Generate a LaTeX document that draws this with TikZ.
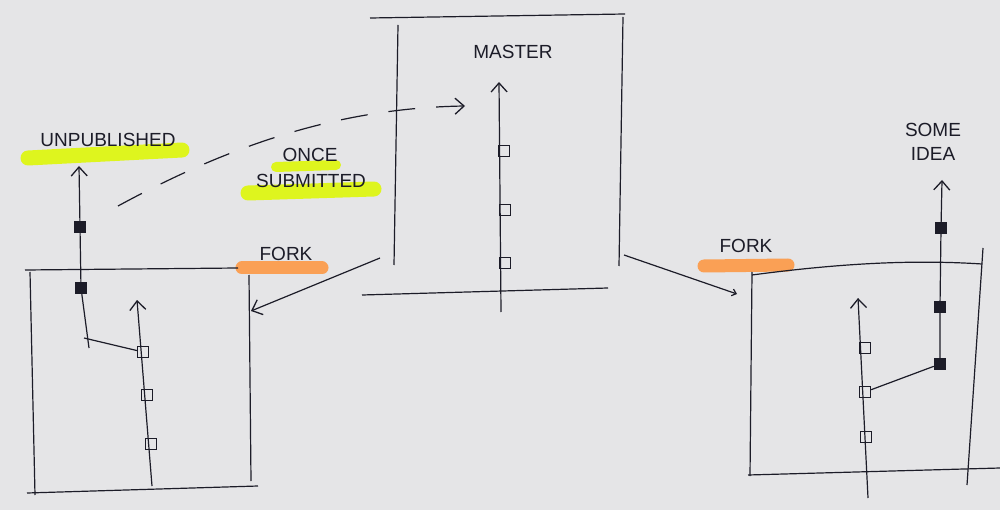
\documentclass[tikz,border=0pt]{standalone}
\usepackage{fontspec}
\setmainfont{Liberation Sans}
\usetikzlibrary{arrows.meta}
\definecolor{paper}{RGB}{229,229,231}
\definecolor{ink}{RGB}{28,28,40}
\definecolor{hly}{RGB}{222,245,30}
\definecolor{hlo}{RGB}{250,160,85}
\tikzset{
  ln/.style={draw=ink, line width=1.2pt},
  arr/.style={-{Straight Barb[length=9pt,width=16pt,line width=1.3pt]}},
  hc/.style={draw=ink, line width=1.4pt, minimum size=11pt, inner sep=0pt, rectangle},
  fc/.style={hc, fill=ink},
  lbl/.style={font=\fontsize{19}{24}\selectfont, text=ink, align=center},
  hly/.style={draw=hly, line width=15pt, line cap=round},
  hlo/.style={draw=hlo, line width=13pt, line cap=round}
}
\begin{document}
\begin{tikzpicture}[x=1pt,y=-1pt]
\fill[paper] (0,0) rectangle (1000,510);
\useasboundingbox (0,0) rectangle (1000,510);

% highlights
\draw[hly] (28,158) -- (182,150);
\draw[hly] (248,193) -- (374,189);
\draw[hly, line width=10pt] (276,167) -- (336,165);
\draw[hlo] (242,268) -- (322,268);
\draw[hlo] (704,266) -- (788,265);

% ---- master box
\draw[ln] (370,18) -- (625,14);
\draw[ln] (398,25) -- (394,265);
\draw[ln] (623,17) -- (619,266);
\draw[ln] (362,295) -- (608,288);
\node[lbl] (master) at (513,52) {MASTER};
\coordinate (mbot) at (501,312);
\coordinate (mtop) at (499,82);
\draw[ln, arr] (mbot) -- (mtop);
\node[hc] (m1) at (505,263) {};
\node[hc] (m2) at (505,210) {};
\node[hc] (m3) at (504,151) {};

% ---- left fork box
\draw[ln] (25,270) -- (238,268);
\draw[ln] (30,272) -- (35,495);
\draw[ln] (249,275) -- (251,481);
\draw[ln] (27,493) -- (258,486);
\node[lbl] (forkL) at (286,254) {FORK};
\coordinate (mL) at (380,258);
\coordinate (fL) at (251,311);
\draw[ln, arr] (mL) -- (fL);

\coordinate (lbot) at (152,486);
\coordinate (ltop) at (137,300);
\draw[ln, arr] (lbot) -- (ltop);
\node[hc] (l1) at (151,444) {};
\node[hc] (l2) at (147,395) {};
\node[hc] (l3) at (143,352) {};

\coordinate (lb0) at (84,338);
\coordinate (lb1) at (89,348);
\coordinate (ltip) at (79,166);
\node[fc] (u1) at (81,288) {};
\node[fc] (u2) at (80,227) {};
\draw[ln] (l3) -- (lb0);
\draw[ln] (lb1) -- (u1);
\draw[ln, arr] (u1) -- (u2) -- (ltip);
\node[lbl] (unpub) at (108,140) {UNPUBLISHED};

% dashed submit arrow
\coordinate (d0) at (118,206);
\coordinate (d1) at (465,106);
\draw[ln, dash pattern=on 27pt off 21pt, arr] (d0) .. controls (225,148) and (335,108) .. (d1);
\node[lbl] (once) at (310,155) {ONCE};
\node[lbl] (subm) at (311,181) {SUBMITTED};

% ---- right fork box
\draw[ln] (752,275) .. controls (850,262) and (920,260) .. (982,264);
\draw[ln] (752,272) -- (750,476);
\draw[ln] (983,248) -- (967,485);
\draw[ln] (748,475) -- (1000,468);
\node[lbl] (forkR) at (746,246) {FORK};
\coordinate (mR) at (624,255);
\coordinate (fR) at (737,294);
\draw[ln, -{Straight Barb[length=4pt,width=7pt]}] (mR) -- (fR);

\coordinate (rbot) at (868,498);
\coordinate (rtop) at (858,298);
\draw[ln, arr] (rbot) -- (rtop);
\node[hc] (r1) at (866,437) {};
\node[hc] (r2) at (865,392) {};
\node[hc] (r3) at (865,348) {};

\node[fc] (s1) at (940,364) {};
\node[fc] (s2) at (940,307) {};
\node[fc] (s3) at (941,228) {};
\coordinate (stip) at (942,180);
\draw[ln] (r2) -- (s1);
\draw[ln, arr] (s1) -- (s2) -- (s3) -- (stip);
\node[lbl] (idea) at (933,142) {SOME\\IDEA};
\end{tikzpicture}
\end{document}
